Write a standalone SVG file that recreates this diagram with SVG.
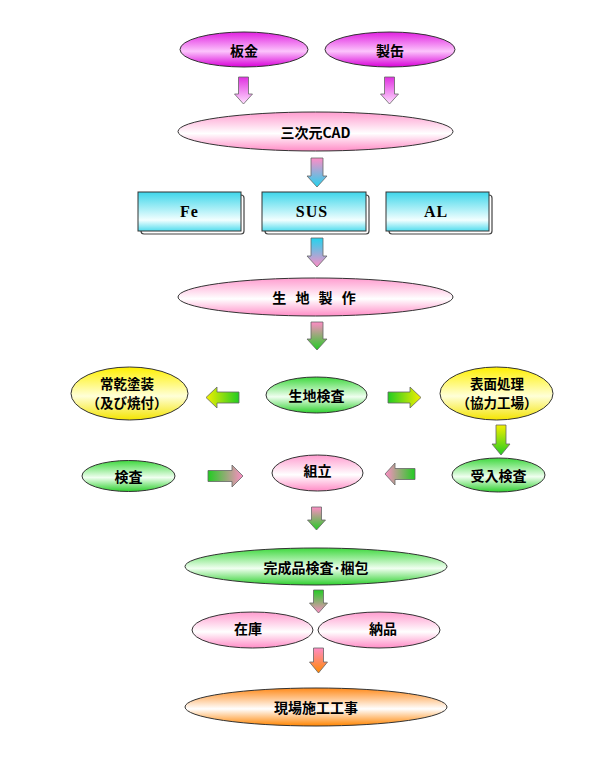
<svg xmlns="http://www.w3.org/2000/svg" width="615" height="769" viewBox="0 0 615 769">
<defs>
<linearGradient id="gMag" x1="0" y1="0" x2="0" y2="1"><stop offset="0" stop-color="#e020e0"/><stop offset="0.55" stop-color="#fcc4fc"/><stop offset="1" stop-color="#d800d8"/></linearGradient>
<linearGradient id="gPink" x1="0" y1="0" x2="0" y2="1"><stop offset="0" stop-color="#ff9ccf"/><stop offset="0.55" stop-color="#ffffff"/><stop offset="1" stop-color="#ff8cc6"/></linearGradient>
<linearGradient id="gGreen" x1="0" y1="0" x2="0" y2="1"><stop offset="0" stop-color="#3ed83e"/><stop offset="0.55" stop-color="#f0fff0"/><stop offset="1" stop-color="#2ed02e"/></linearGradient>
<linearGradient id="gYellow" x1="0" y1="0" x2="0" y2="1"><stop offset="0" stop-color="#fff000"/><stop offset="0.55" stop-color="#ffffd8"/><stop offset="1" stop-color="#f4e400"/></linearGradient>
<linearGradient id="gOrange" x1="0" y1="0" x2="0" y2="1"><stop offset="0" stop-color="#ff8a1a"/><stop offset="0.55" stop-color="#ffffff"/><stop offset="1" stop-color="#ff8400"/></linearGradient>
<linearGradient id="gCyan" x1="0" y1="0" x2="0" y2="1"><stop offset="0" stop-color="#3ed6ea"/><stop offset="0.72" stop-color="#f2ffff"/><stop offset="1" stop-color="#52dcee"/></linearGradient>
<linearGradient id="aMagW" x1="0" y1="0" x2="0" y2="1"><stop offset="0" stop-color="#e030e0"/><stop offset="1" stop-color="#ffe0ff"/></linearGradient>
<linearGradient id="aPinkCyan" x1="0" y1="0" x2="0" y2="1"><stop offset="0" stop-color="#ff8cc6"/><stop offset="1" stop-color="#22d4ee"/></linearGradient>
<linearGradient id="aCyanPink" x1="0" y1="0" x2="0" y2="1"><stop offset="0" stop-color="#22d4ee"/><stop offset="1" stop-color="#ff8cc6"/></linearGradient>
<linearGradient id="aPinkGreen" x1="0" y1="0" x2="0" y2="1"><stop offset="0" stop-color="#ff8cc6"/><stop offset="1" stop-color="#22cc22"/></linearGradient>
<linearGradient id="aGreenPink" x1="0" y1="0" x2="0" y2="1"><stop offset="0" stop-color="#22cc22"/><stop offset="1" stop-color="#ff8cc6"/></linearGradient>
<linearGradient id="aYellowGreen" x1="0" y1="0" x2="0" y2="1"><stop offset="0" stop-color="#f4f000"/><stop offset="1" stop-color="#22cc22"/></linearGradient>
<linearGradient id="aPinkOrange" x1="0" y1="0" x2="0" y2="1"><stop offset="0" stop-color="#ff8cc6"/><stop offset="1" stop-color="#ff8800"/></linearGradient>
<linearGradient id="hYellowGreen" x1="0" y1="0" x2="1" y2="0"><stop offset="0" stop-color="#f4f000"/><stop offset="1" stop-color="#22cc22"/></linearGradient>
<linearGradient id="hGreenYellow" x1="0" y1="0" x2="1" y2="0"><stop offset="0" stop-color="#22cc22"/><stop offset="1" stop-color="#f4f000"/></linearGradient>
<linearGradient id="hGreenPink" x1="0" y1="0" x2="1" y2="0"><stop offset="0" stop-color="#22cc22"/><stop offset="1" stop-color="#ff8cc6"/></linearGradient>
<linearGradient id="hPinkGreen" x1="0" y1="0" x2="1" y2="0"><stop offset="0" stop-color="#ff8cc6"/><stop offset="1" stop-color="#22cc22"/></linearGradient>
</defs>
<style>
.node ellipse, .node rect.box { stroke: #333; stroke-width: 1; }
.shadow { fill: none; stroke: #444; stroke-width: 1.2; }
.arr { stroke: #666; stroke-width: 0.8; }
text { font-family: "Noto Sans CJK JP", "Liberation Sans", sans-serif; font-weight: bold; font-size: 14px; fill: #000; text-anchor: middle; dominant-baseline: central; }
text.two { font-size: 13.5px; }
text.lat { font-family: "Liberation Serif", serif; font-size: 16px; letter-spacing: 1px; }
</style>
<rect width="615" height="769" fill="#fff"/>

<g id="connectors">
<path class="arr" fill="url(#aMagW)" d="M238.5,77 H248.5 V94 H252.5 L243.5,104 L234.5,94 H238.5 Z"/>
<path class="arr" fill="url(#aMagW)" d="M384.5,77 H394.5 V94 H398.5 L389.5,104 L380.5,94 H384.5 Z"/>
<path class="arr" fill="url(#aPinkCyan)" d="M311,158 H323 V176 H327 L317,187 L307,176 H311 Z"/>
<path class="arr" fill="url(#aCyanPink)" d="M311,238 H323 V256 H327 L317,267 L307,256 H311 Z"/>
<path class="arr" fill="url(#aPinkGreen)" d="M311,322 H323 V339 H327 L317,350 L307,339 H311 Z"/>
<path class="arr" fill="url(#aYellowGreen)" d="M496,425 H506 V444 H510 L501,455 L492,444 H496 Z"/>
<path class="arr" fill="url(#aPinkGreen)" d="M311.5,507 H321.5 V520 H325.5 L316.5,530 L307.5,520 H311.5 Z"/>
<path class="arr" fill="url(#aGreenPink)" d="M313.5,590 H323.5 V603 H327.5 L318.5,613 L309.5,603 H313.5 Z"/>
<path class="arr" fill="url(#aPinkOrange)" d="M313.5,648 H323.5 V662 H327.5 L318.5,673 L309.5,662 H313.5 Z"/>
<path class="arr" fill="url(#hYellowGreen)" d="M239,392 V403 H217 V408 L206,397.5 L217,387 V392 Z"/>
<path class="arr" fill="url(#hGreenYellow)" d="M388,392 V403 H410 V408 L421,397.5 L410,387 V392 Z"/>
<path class="arr" fill="url(#hGreenPink)" d="M208,470.5 V481.5 H232 V487 L243,476 L232,465 V470.5 Z"/>
<path class="arr" fill="url(#hPinkGreen)" d="M415,468.5 V479.5 H395 V485 L385,474 L395,463 V468.5 Z"/>
</g>

<g id="n-bankin" class="node"><ellipse cx="244" cy="49.5" rx="64" ry="17.5" fill="url(#gMag)"/><text x="244" y="49.5">板金</text></g>
<g id="n-seikan" class="node"><ellipse cx="390" cy="49.5" rx="65" ry="17.5" fill="url(#gMag)"/><text x="390" y="49.5">製缶</text></g>
<g id="n-cad" class="node"><ellipse cx="315.5" cy="131.5" rx="137.5" ry="19.5" fill="url(#gPink)"/><text x="315.5" y="131.5">三次元CAD</text></g>

<g id="n-fe" class="node"><rect class="shadow" x="141" y="195" width="103" height="39" rx="3"/><rect class="box" x="138" y="192" width="103" height="39" fill="url(#gCyan)"/><text class="lat" x="189.5" y="211">Fe</text></g>
<g id="n-sus" class="node"><rect class="shadow" x="265" y="195" width="104" height="39" rx="3"/><rect class="box" x="262" y="192" width="104" height="39" fill="url(#gCyan)"/><text class="lat" x="312" y="211">SUS</text></g>
<g id="n-al" class="node"><rect class="shadow" x="389" y="195" width="103" height="39" rx="3"/><rect class="box" x="386" y="192" width="103" height="39" fill="url(#gCyan)"/><text class="lat" x="436" y="211">AL</text></g>

<g id="n-kijiseisaku" class="node"><ellipse cx="315.5" cy="297" rx="137.5" ry="19" fill="url(#gPink)"/><text x="315.5" y="297" style="letter-spacing:3px">生 地 製 作</text></g>

<g id="n-jokan" class="node"><ellipse cx="129.5" cy="393.5" rx="58.5" ry="26.5" fill="url(#gYellow)"/><text class="two" x="127" y="383">常乾塗装</text><text class="two" x="127" y="402">（及び焼付）</text></g>
<g id="n-kijikensa" class="node"><ellipse cx="316.5" cy="395" rx="50.5" ry="18" fill="url(#gGreen)"/><text x="316.5" y="395">生地検査</text></g>
<g id="n-hyomen" class="node"><ellipse cx="496.5" cy="393.5" rx="56.5" ry="26.5" fill="url(#gYellow)"/><text class="two" x="497" y="383">表面処理</text><text class="two" x="497" y="402">（協力工場）</text></g>

<g id="n-kensa" class="node"><ellipse cx="128.5" cy="476" rx="46.5" ry="15.5" fill="url(#gGreen)"/><text x="128.5" y="476">検査</text></g>
<g id="n-kumitate" class="node"><ellipse cx="317.5" cy="473" rx="45.5" ry="18" fill="url(#gPink)"/><text x="317.5" y="470">組立</text></g>
<g id="n-ukeire" class="node"><ellipse cx="498.5" cy="475" rx="46.5" ry="17" fill="url(#gGreen)"/><text x="498.5" y="475">受入検査</text></g>

<g id="n-kanseihin" class="node"><ellipse cx="316" cy="566.5" rx="131" ry="18.5" fill="url(#gGreen)"/><text x="316" y="566.5">完成品検査･梱包</text></g>
<g id="n-zaiko" class="node"><ellipse cx="252.5" cy="630" rx="60.5" ry="18" fill="url(#gPink)"/><text x="248" y="628">在庫</text></g>
<g id="n-nohin" class="node"><ellipse cx="379" cy="630" rx="61" ry="18" fill="url(#gPink)"/><text x="383" y="628">納品</text></g>
<g id="n-genba" class="node"><ellipse cx="316" cy="707" rx="131" ry="19" fill="url(#gOrange)"/><text x="316" y="707">現場施工工事</text></g>
</svg>
